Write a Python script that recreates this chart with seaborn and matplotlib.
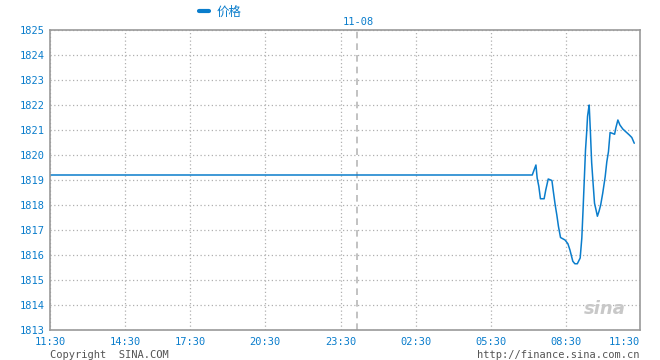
import matplotlib as mpl
import numpy as np
import pandas
import seaborn as sns
from matplotlib import pyplot

# %% -- data ---------------------------------------------------------------- #
# minutes after 11:30 and price
flat_minutes = [0, 1177]
flat_price = [1819.2, 1819.2]
move_minutes = [1186, 1189, 1193, 1197, 1206, 1210, 1216, 1225, 1228, 1233,
                1237, 1241, 1246, 1257, 1264, 1269, 1276, 1281, 1287, 1294,
                1298, 1301, 1304, 1307, 1310, 1312, 1315, 1316, 1319, 1322,
                1326, 1329, 1333, 1336, 1340, 1344, 1349, 1355, 1359, 1363,
                1367, 1372, 1378, 1381, 1386, 1391, 1398, 1406, 1414, 1420,
                1426]
move_price = [1819.6, 1819.08, 1818.75, 1818.25, 1818.25, 1818.6, 1819.04, 1818.98, 1818.6, 1818.0,
              1817.6, 1817.14, 1816.7, 1816.6, 1816.45, 1816.2, 1815.75, 1815.65, 1815.65, 1815.88,
              1816.68, 1817.8, 1819.0, 1820.2, 1820.95, 1821.55, 1821.9, 1822.0, 1820.9, 1819.7,
              1818.75, 1818.07, 1817.78, 1817.55, 1817.75, 1818.0, 1818.47, 1819.13, 1819.73, 1820.13,
              1820.9, 1820.87, 1820.83, 1821.08, 1821.4, 1821.2, 1821.04, 1820.92, 1820.8, 1820.7,
              1820.47]

xtick_pos = [0, 183, 342, 525, 710, 893, 1076, 1259, 1440]
xtick_labels = ['11:30', '14:30', '17:30', '20:30', '23:30', '02:30', '05:30', '08:30', '11:30']
yticks = [1813, 1814, 1815, 1816, 1817, 1818, 1819, 1820, 1821, 1822, 1823, 1824, 1825]
day_break = 750
day_label = '11-08'

# %% -- style --------------------------------------------------------------- #
sns.set_style("white")
mpl.rcParams['font.family'] = ['DejaVu Sans Mono', 'Noto Sans CJK SC']
blue = '#0a7dcc'
grey = '#9a9a9a'

data = pandas.DataFrame({'minute': flat_minutes + move_minutes,
                         'price': flat_price + move_price})

f = pyplot.figure(figsize=(6.6, 3.6), dpi=100)
ax = f.add_axes([50/660, 30/360, 590/660, 300/360])

sns.lineplot(data=data, x='minute', y='price', ax=ax, color=blue,
             linewidth=1.1, label='价格')

# grid
for y in yticks:
    ax.axhline(y, color='#b0b0b0', linestyle=(0, (1, 2)), linewidth=0.9, zorder=0)
for x in xtick_pos:
    ax.axvline(x, color='#b0b0b0', linestyle=(0, (1, 2)), linewidth=0.9, zorder=0)
ax.axvline(day_break, color='#b8b8b8', linestyle=(0, (4, 3)), linewidth=1.2, zorder=0)

# axes
ax.set_xlim(0, 1440)
ax.set_ylim(1813, 1825)
ax.set_yticks(yticks)
ax.set_yticklabels([str(v) for v in yticks], color=blue, fontsize=7.5)
ax.set_xticks(xtick_pos)
ax.set_xticklabels(xtick_labels, color=blue, fontsize=7.5)
ax.get_xticklabels()[-1].set_horizontalalignment('right')
ax.get_yticklabels()[0].set_verticalalignment('center_baseline')
ax.tick_params(axis='x', length=0, pad=5)
ax.tick_params(axis='y', length=0, pad=4)
ax.set_xlabel('')
ax.set_ylabel('')
for s in ax.spines.values():
    s.set_color(grey)
    s.set_linewidth(1.2)

# legend
leg = ax.legend(loc='center', bbox_to_anchor=(220/660, 348/360),
                bbox_transform=f.transFigure, frameon=False, handlelength=0.8,
                handletextpad=0.6, prop={'family': ['Noto Sans CJK SC'], 'size': 9})
for t in leg.get_texts():
    t.set_color(blue)
for h in leg.get_lines():
    h.set_linewidth(3)

# annotations
f.text(358/660, 338/360, day_label, color=blue, fontsize=7.5, ha='center', va='center')
f.text(50/660, 5/360, 'Copyright  SINA.COM', color='#555555', fontsize=7.5, ha='left', va='center')
f.text(640/660, 5/360, 'http://finance.sina.com.cn', color='#555555', fontsize=7.5, ha='right', va='center')
ax.text(0.975, 0.04, 'sina', transform=ax.transAxes, color='#c8c8c8', fontsize=13,
        fontstyle='italic', fontweight='bold', ha='right', va='bottom', family='DejaVu Sans')

pyplot.savefig('out.png', dpi=100)
